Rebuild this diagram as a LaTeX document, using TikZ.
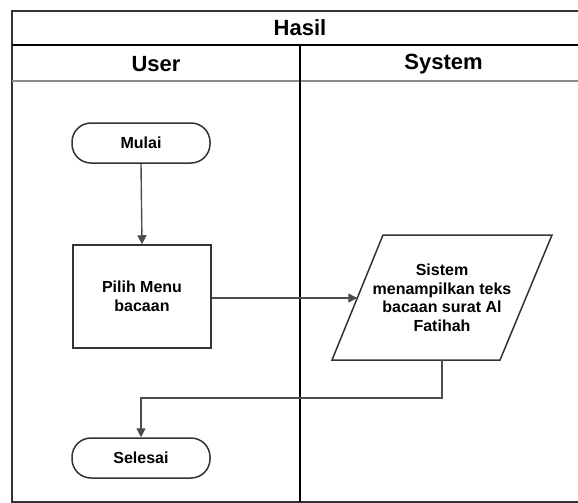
\documentclass[tikz,border=0pt]{standalone}
\usepackage{fontspec}
\setmainfont{Liberation Sans}
\usetikzlibrary{arrows.meta,calc}

\tikzset{
  lane/.style={draw=black!80, line width=1.8pt},
  lanesep/.style={draw=black!45, line width=1.8pt},
  boxtext/.style={font=\bfseries\fontsize{16}{18.5}\selectfont, align=center},
  terminal/.style={boxtext, draw=black!80, line width=1.5pt, rounded corners=19pt,
    minimum width=138pt, minimum height=40pt},
  process/.style={boxtext, draw=black!80, line width=1.5pt,
    minimum width=138pt, minimum height=103pt},
  flow/.style={draw=black!70, line width=1.4pt, -{Triangle[length=9pt,width=9pt]}},
  heading/.style={font=\bfseries\fontsize{22}{24}\selectfont},
}

\begin{document}
\begin{tikzpicture}[x=1pt,y=-1pt]
  \useasboundingbox (0,0) rectangle (578,503);
  \fill[white] (0,0) rectangle (578,503);

  % swimlane frame
  \draw[lane] (578,11) -- (12,11) -- (12,502) -- (578,502);
  \draw[draw=black, line width=2pt] (12,45.5) -- (578,45.5);
  \draw[lanesep] (12,81) -- (578,81);
  \draw[draw=black, line width=2pt] (299.5,45.5) -- (299.5,502);

  \node[heading] (title) at (300,28) {Hasil};
  \node[heading] (user) at (156,64) {User};
  \node[heading] (system) at (443.5,64) {System};

  % user lane
  \node[terminal] (mulai) at (141,143) {Mulai};
  \node[process] (pilih) at (142,296.5) {Pilih Menu\\bacaan};
  \node[terminal] (selesai) at (141,458) {Selesai};

  % system lane: input/output parallelogram
  \coordinate (pa) at (383,235);
  \coordinate (pb) at (552,235);
  \coordinate (pc) at (500,360);
  \coordinate (pd) at (332,360);
  \draw[draw=black!80, line width=1.5pt] (pa) -- (pb) -- (pc) -- (pd) -- cycle;
  \node[boxtext] (sys) at (442,298)
    {Sistem\\menampilkan teks\\bacaan surat Al\\Fatihah};
  \coordinate (sysin) at ($(pa)!0.504!(pd)$);
  \coordinate (sysout) at (442,360);
  \coordinate (bend) at (442,398);

  % connectors
  \draw[flow] (mulai.south) -- (pilih.north);
  \draw[flow] (pilih.east |- sysin) -- (sysin);
  \draw[flow] (sysout) -- (bend) -| (selesai.north);
\end{tikzpicture}
\end{document}
